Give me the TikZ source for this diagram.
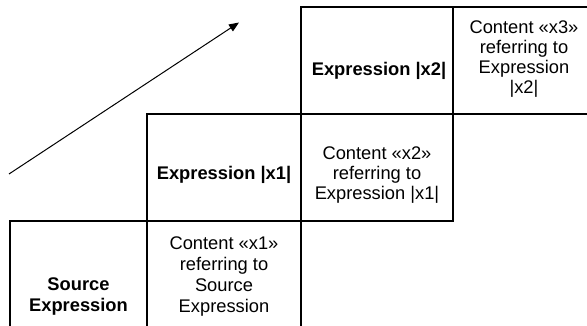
\documentclass[tikz,border=0pt]{standalone}
\usepackage{fontspec}
\setmainfont{Liberation Sans}
\usetikzlibrary{arrows.meta}
\tikzset{
  cell/.style={draw=black, line width=1.2pt},
  lbl/.style={font=\fontsize{18.3}{20}\selectfont\bfseries, align=center, inner sep=0pt, anchor=center},
  cnt/.style={font=\fontsize{18.3}{20}\selectfont, align=center, inner sep=0pt, anchor=center},
  widelbl/.style={font=\fontsize{18.3}{21.2}\selectfont\bfseries},
  widecnt/.style={font=\fontsize{18.3}{21.2}\selectfont},
  arr/.style={line width=1pt, -{Triangle[length=10pt,width=8pt]}}
}
\begin{document}
\begin{tikzpicture}[x=1pt,y=-1pt]
\useasboundingbox (0,0) rectangle (587,326);
\clip (0,0) rectangle (587,326);
% cells
\draw[cell] (301,7) rectangle (600,114);
\draw[cell] (453,7) -- (453,114);
\draw[cell] (147,114) rectangle (453,221);
\draw[cell] (301,114) -- (301,221);
\draw[cell] (10,221) rectangle (301,340);
\draw[cell] (147,221) -- (147,340);
% texts
\node[lbl] (e2) at (379,71) {Expression |x2|};
\node[cnt] (c3) at (524,59.5) {Content «x3»\\referring to\\Expression\\|x2|};
\node[lbl] (e1) at (224,175) {Expression |x1|};
\node[cnt] (c2) at (377,175) {Content «x2»\\referring to\\Expression |x1|};
\node[lbl,widelbl] (src) at (78.5,296.5) {Source\\Expression};
\node[cnt,widecnt] (c1) at (224,276.5) {Content «x1»\\referring to\\Source\\Expression};
% arrow
\coordinate (a0) at (9,174);
\coordinate (a1) at (239,22.5);
\draw[arr] (a0) -- (a1);
\end{tikzpicture}
\end{document}
